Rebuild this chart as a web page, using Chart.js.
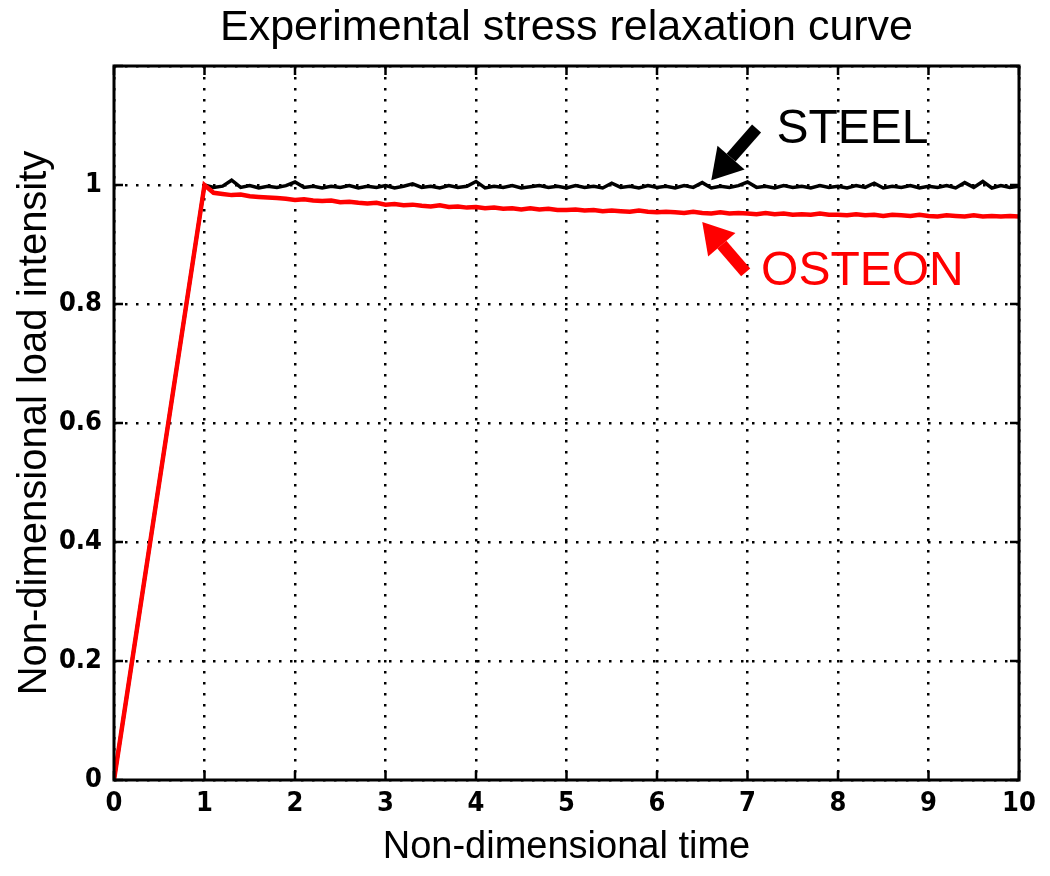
<!DOCTYPE html>
<html>
<head>
<meta charset="utf-8">
<script src="https://cdn.jsdelivr.net/npm/chart.js@4.4.0/dist/chart.umd.min.js"></script>
<style>
  body { margin: 0; background: #fff; }
  #wrap { width: 1050px; height: 876px; }
</style>
</head>
<body>
<div id="wrap"><canvas id="relaxChart" width="1050" height="876"></canvas></div>
<script>
// time samples (non-dimensional), shared by both curves
const time = [
  0,
  1.0, 1.1, 1.2, 1.3, 1.4, 1.5, 1.6, 1.7, 1.8, 1.9,
  2.0, 2.1, 2.2, 2.3, 2.4, 2.5, 2.6, 2.7, 2.8, 2.9,
  3.0, 3.1, 3.2, 3.3, 3.4, 3.5, 3.6, 3.7, 3.8, 3.9,
  4.0, 4.1, 4.2, 4.3, 4.4, 4.5, 4.6, 4.7, 4.8, 4.9,
  5.0, 5.1, 5.2, 5.3, 5.4, 5.5, 5.6, 5.7, 5.8, 5.9,
  6.0, 6.1, 6.2, 6.3, 6.4, 6.5, 6.6, 6.7, 6.8, 6.9,
  7.0, 7.1, 7.2, 7.3, 7.4, 7.5, 7.6, 7.7, 7.8, 7.9,
  8.0, 8.1, 8.2, 8.3, 8.4, 8.5, 8.6, 8.7, 8.8, 8.9,
  9.0, 9.1, 9.2, 9.3, 9.4, 9.5, 9.6, 9.7, 9.8, 9.9,
  10.0
];

const steelLoad = [
  0,
  1.000, 0.996, 0.998, 1.008, 0.996, 0.999, 0.995, 0.998, 0.996, 0.999,
  1.005, 0.996, 0.998, 0.995, 0.998, 0.996, 0.999, 0.995, 0.998, 0.996,
  0.999, 0.995, 0.998, 1.002, 0.996, 0.998, 0.995, 0.999, 0.996, 0.998,
  1.006, 0.995, 0.998, 0.996, 0.999, 0.995, 0.997, 0.999, 0.996, 0.998,
  0.995, 0.999, 0.996, 0.998, 0.995, 1.003, 0.996, 0.998, 0.995, 0.999,
  0.996, 0.998, 0.995, 0.999, 0.996, 1.004, 0.995, 0.998, 0.996, 0.999,
  1.005, 0.996, 0.998, 0.995, 0.999, 0.996, 0.998, 0.995, 0.999, 0.996,
  0.998, 0.995, 0.999, 0.996, 1.003, 0.995, 0.998, 0.996, 0.999, 0.995,
  0.998, 0.996, 0.999, 0.995, 1.004, 0.996, 1.006, 0.995, 0.999, 0.996,
  0.998
];

const osteonLoad = [
  0,
  1.000, 0.987, 0.985, 0.983, 0.984, 0.981, 0.980, 0.979, 0.978, 0.977,
  0.975, 0.976, 0.974, 0.973, 0.974, 0.971, 0.972, 0.970, 0.969, 0.970,
  0.967, 0.968, 0.966, 0.967, 0.965, 0.964, 0.966, 0.963, 0.964, 0.962,
  0.963, 0.961, 0.962, 0.960, 0.961, 0.959, 0.961, 0.959, 0.960, 0.958,
  0.958, 0.959, 0.957, 0.958, 0.956, 0.957, 0.956, 0.955, 0.957, 0.955,
  0.954, 0.955, 0.954, 0.953, 0.955, 0.953, 0.952, 0.954, 0.952, 0.953,
  0.952, 0.951, 0.953, 0.951, 0.952, 0.950, 0.951, 0.950, 0.952, 0.950,
  0.950, 0.949, 0.951, 0.949, 0.950, 0.948, 0.950, 0.949, 0.948, 0.950,
  0.948, 0.947, 0.949, 0.948, 0.947, 0.949, 0.947, 0.948, 0.947, 0.948,
  0.947
];

const xTickLabels = ['0', '1', '2', '3', '4', '5', '6', '7', '8', '9', '10'];
const yTickLabels = ['0', '0.2', '0.4', '0.6', '0.8', '1'];

const tickFont = { family: '"Liberation Sans Narrow", "DejaVu Sans Condensed", Arial, sans-serif', size: 27, weight: 'bold' };
const textFont = '"Liberation Sans", Arial, sans-serif';

// labels with arrows, placed in data units
const notes = [
  { text: 'STEEL', color: '#000', tx: 7.32, ty: 1.093, from: [7.1, 1.095], to: [6.6, 1.008] },
  { text: 'OSTEON', color: '#ff0000', tx: 7.15, ty: 0.855, from: [6.98, 0.853], to: [6.5, 0.938] }
];

const toPts = ys => time.map((t, i) => ({ x: t, y: ys[i] }));

const framePlugin = {
  id: 'frame',
  afterDatasetsDraw(chart) {
    const { ctx, chartArea: a, scales: { x, y } } = chart;
    ctx.save();
    ctx.strokeStyle = '#000';
    ctx.lineWidth = 3;
    ctx.strokeRect(a.left, a.top, a.right - a.left, a.bottom - a.top);
    // inward tick marks like matlab
    ctx.lineWidth = 2.5;
    ctx.beginPath();
    x.ticks.forEach(t => {
      const px = x.getPixelForValue(t.value);
      ctx.moveTo(px, a.bottom); ctx.lineTo(px, a.bottom - 9);
      ctx.moveTo(px, a.top); ctx.lineTo(px, a.top + 9);
    });
    y.ticks.forEach(t => {
      const py = y.getPixelForValue(t.value);
      ctx.moveTo(a.left, py); ctx.lineTo(a.left + 9, py);
      ctx.moveTo(a.right, py); ctx.lineTo(a.right - 9, py);
    });
    ctx.stroke();

    // annotations
    notes.forEach(n => {
      const x0 = x.getPixelForValue(n.from[0]), y0 = y.getPixelForValue(n.from[1]);
      const x1 = x.getPixelForValue(n.to[0]), y1 = y.getPixelForValue(n.to[1]);
      const ang = Math.atan2(y1 - y0, x1 - x0);
      const headLen = 30, headW = 18;
      const bx = x1 - headLen * Math.cos(ang), by = y1 - headLen * Math.sin(ang);
      ctx.strokeStyle = n.color;
      ctx.fillStyle = n.color;
      ctx.lineWidth = 12;
      ctx.lineCap = 'butt';
      ctx.beginPath();
      ctx.moveTo(x0, y0); ctx.lineTo(bx, by);
      ctx.stroke();
      ctx.beginPath();
      ctx.moveTo(x1, y1);
      ctx.lineTo(bx + headW * Math.sin(ang), by - headW * Math.cos(ang));
      ctx.lineTo(bx - headW * Math.sin(ang), by + headW * Math.cos(ang));
      ctx.closePath();
      ctx.fill();

      ctx.font = '48px ' + textFont;
      ctx.textBaseline = 'middle';
      ctx.textAlign = 'left';
      ctx.fillText(n.text, x.getPixelForValue(n.tx), y.getPixelForValue(n.ty));
    });
    ctx.restore();
  }
};

new Chart(document.getElementById('relaxChart').getContext('2d'), {
  type: 'line',
  data: {
    datasets: [
      {
        label: 'OSTEON',
        data: toPts(osteonLoad),
        borderColor: '#ff0000',
        borderWidth: 4.5,
        pointRadius: 0,
        tension: 0,
        order: 0
      },
      {
        label: 'STEEL',
        data: toPts(steelLoad),
        borderColor: '#000000',
        borderWidth: 3.5,
        pointRadius: 0,
        tension: 0,
        order: 1
      }
    ]
  },
  options: {
    responsive: false,
    animation: false,
    layout: { padding: { left: 0, right: 31, top: 0, bottom: 0 } },
    plugins: {
      legend: { display: false },
      tooltip: { enabled: false },
      title: {
        display: true,
        fullSize: false,
        text: 'Experimental stress relaxation curve',
        color: '#000',
        font: { family: textFont, size: 43, weight: 'normal' },
        padding: { top: 2, bottom: 12.4 }
      }
    },
    scales: {
      x: {
        type: 'linear',
        min: 0,
        max: 10,
        afterFit: s => { s.height = 96; },
        ticks: {
          stepSize: 1,
          color: '#000',
          font: tickFont,
          padding: 8,
          maxRotation: 0,
          callback: (v, i) => xTickLabels[i] ?? ''
        },
        grid: { color: '#000', lineWidth: 2.5, drawTicks: false },
        border: { display: false, dash: [2.5, 8.5] },
        title: {
          display: true,
          text: 'Non-dimensional time',
          color: '#000',
          font: { family: textFont, size: 38 },
          padding: { top: 0, bottom: 5.2 }
        }
      },
      y: {
        min: 0,
        max: 1.2,
        afterFit: s => { s.width = 114; },
        ticks: {
          stepSize: 0.2,
          color: '#000',
          font: tickFont,
          padding: 12,
          callback: (v, i) => yTickLabels[i] ?? ''
        },
        grid: { color: '#000', lineWidth: 2.5, drawTicks: false },
        border: { display: false, dash: [2.5, 8.5] },
        title: {
          display: true,
          text: 'Non-dimensional load intensity',
          color: '#000',
          font: { family: textFont, size: 40 },
          padding: { top: 11, bottom: 0 }
        }
      }
    }
  },
  plugins: [framePlugin]
});
</script>
</body>
</html>
